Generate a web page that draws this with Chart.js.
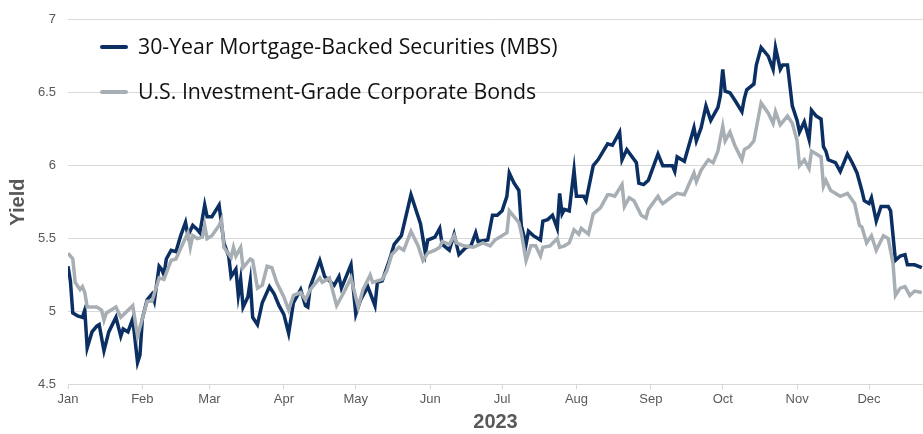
<!DOCTYPE html>
<html>
<head>
<meta charset="utf-8">
<script src="https://cdn.jsdelivr.net/npm/chart.js@4.4.1/dist/chart.umd.min.js"></script>
<style>
    body { margin: 0; background: #fff; }
    #wrap { position: relative; width: 923px; height: 434px; }
    .legend { position: absolute; left: 100px; font-family: 'Open Sans', sans-serif; font-size: 21.3px; color: #111; white-space: nowrap; line-height: 26px; }
    .legend span.sw { display: inline-block; width: 28px; height: 4px; border-radius: 2px; vertical-align: middle; margin-right: 10px; position: relative; top: -1px; }
</style>
</head>
<body>
<div id="wrap">
    <canvas id="chart" width="923" height="434"></canvas>
    <div class="legend" style="top:33px"><span class="sw" style="background:#0b2f63"></span>30-Year Mortgage-Backed Securities (MBS)</div>
    <div class="legend" style="top:78px"><span class="sw" style="background:#a7afb5"></span>U.S. Investment-Grade Corporate Bonds</div>
</div>
<script>
/* data: day of year 2023 (0 = Jan 1) and yield */
let mbsDays = [0, 1, 2, 4, 6, 7, 8, 10, 12, 13, 15, 17, 20, 22, 23, 25, 27, 29, 30, 31, 33, 35, 36, 38, 39, 40, 41, 43, 45, 47, 49, 50, 52, 54, 55, 57, 58, 60, 63, 65, 67, 68, 70, 71, 72, 73, 75, 76, 77, 79, 81, 84, 86, 88, 90, 92, 94, 97, 99, 100, 101, 105, 107, 111, 113, 114, 118, 120, 122, 125, 128, 129, 131, 134, 136, 139, 143, 147, 149, 150, 153, 155, 156, 159, 161, 163, 166, 168, 170, 171, 175, 177, 179, 181, 183, 184, 186, 188, 189, 191, 192, 194, 197, 198, 200, 202, 204, 205, 206, 207, 209, 211, 212, 215, 216, 219, 221, 225, 227, 230, 231, 233, 237, 238, 240, 242, 246, 248, 252, 253, 254, 257, 261, 262, 264, 266, 268, 271, 272, 273, 274, 276, 278, 281, 282, 283, 286, 287, 289, 292, 294, 295, 297, 298, 300, 302, 304, 305, 307, 309, 310, 312, 314, 315, 316, 317, 320, 322, 325, 327, 329, 331, 332, 334, 335, 337, 339, 342, 343, 345, 347, 349, 350, 353, 356];
let mbsYield = [5.31, 5.21, 4.99, 4.97, 4.96, 5.01, 4.75, 4.86, 4.90, 4.91, 4.73, 4.86, 4.96, 4.83, 4.88, 4.86, 4.95, 4.65, 4.70, 4.95, 5.08, 5.12, 5.07, 5.31, 5.29, 5.25, 5.36, 5.42, 5.41, 5.52, 5.61, 5.52, 5.59, 5.56, 5.54, 5.73, 5.65, 5.65, 5.73, 5.47, 5.38, 5.24, 5.29, 5.11, 5.22, 5.03, 5.10, 5.21, 4.96, 4.91, 5.06, 5.17, 5.12, 5.04, 4.98, 4.85, 5.06, 5.15, 5.04, 5.03, 5.17, 5.35, 5.24, 5.18, 5.24, 5.16, 5.32, 4.98, 5.08, 5.17, 5.04, 5.20, 5.21, 5.35, 5.46, 5.52, 5.80, 5.60, 5.40, 5.49, 5.51, 5.57, 5.46, 5.42, 5.53, 5.39, 5.44, 5.45, 5.54, 5.48, 5.49, 5.66, 5.66, 5.69, 5.79, 5.95, 5.88, 5.83, 5.59, 5.46, 5.55, 5.52, 5.49, 5.62, 5.63, 5.66, 5.57, 5.81, 5.67, 5.70, 5.69, 5.97, 5.79, 5.79, 5.76, 6.00, 6.04, 6.15, 6.14, 6.23, 6.04, 6.11, 6.02, 5.88, 5.87, 5.90, 6.08, 6.00, 6.00, 5.96, 6.06, 6.03, 6.26, 6.17, 6.26, 6.41, 6.31, 6.40, 6.48, 6.66, 6.51, 6.50, 6.45, 6.37, 6.46, 6.52, 6.56, 6.69, 6.81, 6.75, 6.66, 6.81, 6.66, 6.69, 6.69, 6.41, 6.31, 6.23, 6.30, 6.18, 6.38, 6.34, 6.32, 6.13, 6.10, 6.04, 6.02, 5.96, 6.08, 6.02, 5.95, 5.83, 5.76, 5.74, 5.78, 5.62, 5.72, 5.72, 5.69, 5.35, 5.38, 5.39, 5.32, 5.32, 5.30];

let corpDays = [0, 2, 3, 5, 6, 7, 8, 12, 14, 15, 16, 20, 22, 27, 29, 31, 33, 35, 38, 40, 43, 45, 48, 50, 51, 52, 54, 56, 57, 58, 60, 63, 64, 65, 68, 69, 70, 72, 73, 76, 77, 79, 81, 83, 85, 87, 90, 92, 94, 97, 99, 101, 105, 106, 109, 112, 115, 118, 121, 123, 126, 127, 131, 133, 135, 138, 140, 143, 146, 148, 150, 153, 155, 156, 159, 161, 162, 165, 169, 173, 176, 178, 183, 184, 188, 189, 191, 193, 195, 197, 198, 201, 204, 205, 207, 209, 211, 213, 214, 217, 219, 222, 225, 226, 228, 231, 232, 234, 236, 239, 241, 242, 246, 247, 248, 252, 254, 257, 261, 262, 264, 267, 269, 271, 273, 274, 276, 278, 281, 282, 284, 286, 289, 292, 294, 295, 297, 298, 300, 302, 304, 305, 307, 309, 310, 314, 315, 316, 318, 322, 325, 328, 330, 331, 333, 335, 337, 340, 342, 344, 345, 347, 349, 351, 353, 356];
let corpYield = [5.40, 5.36, 5.20, 5.15, 5.17, 5.13, 5.03, 5.03, 5.01, 4.94, 4.99, 5.03, 4.96, 5.04, 4.83, 4.95, 5.07, 5.07, 5.23, 5.22, 5.35, 5.36, 5.47, 5.54, 5.44, 5.52, 5.50, 5.51, 5.59, 5.50, 5.52, 5.59, 5.63, 5.44, 5.37, 5.44, 5.38, 5.44, 5.30, 5.36, 5.35, 5.16, 5.18, 5.31, 5.30, 5.20, 5.10, 5.01, 5.11, 5.13, 5.08, 5.15, 5.23, 5.20, 5.23, 5.04, 5.13, 5.23, 5.03, 5.15, 5.25, 5.20, 5.22, 5.28, 5.39, 5.44, 5.42, 5.55, 5.45, 5.35, 5.40, 5.42, 5.44, 5.48, 5.46, 5.52, 5.47, 5.45, 5.44, 5.47, 5.45, 5.49, 5.54, 5.69, 5.61, 5.54, 5.35, 5.45, 5.45, 5.38, 5.44, 5.45, 5.50, 5.44, 5.45, 5.47, 5.56, 5.53, 5.57, 5.53, 5.67, 5.71, 5.80, 5.80, 5.79, 5.87, 5.72, 5.78, 5.76, 5.66, 5.64, 5.70, 5.79, 5.76, 5.74, 5.79, 5.81, 5.80, 5.95, 5.89, 5.97, 6.04, 6.02, 6.10, 6.27, 6.17, 6.23, 6.14, 6.04, 6.11, 6.13, 6.17, 6.43, 6.36, 6.29, 6.37, 6.28, 6.30, 6.34, 6.29, 6.17, 6.00, 6.04, 5.98, 6.10, 6.06, 5.86, 5.90, 5.83, 5.79, 5.81, 5.74, 5.59, 5.58, 5.47, 5.52, 5.42, 5.52, 5.50, 5.33, 5.11, 5.16, 5.17, 5.11, 5.14, 5.13];

let monthStarts = [0, 31, 59, 90, 120, 151, 181, 212, 243, 273, 304, 334];
let monthLabels = ['Jan', 'Feb', 'Mar', 'Apr', 'May', 'Jun', 'Jul', 'Aug', 'Sep', 'Oct', 'Nov', 'Dec'];
let yieldTicks = [4.5, 5, 5.5, 6, 6.5, 7];

function toPoints(days, values) {
    return days.map((d, i) => ({ x: d, y: values[i] }));
}

let axisGray = '#595959';
let gridGray = '#d9d9d9';

window.onload = function() {
    new Chart(document.getElementById('chart'), {
        type: 'line',
        data: {
            datasets: [{
                label: 'U.S. Investment-Grade Corporate Bonds',
                data: toPoints(corpDays, corpYield),
                borderColor: '#a7afb5',
                borderWidth: 3.5,
                pointRadius: 0,
                tension: 0
            }, {
                label: '30-Year Mortgage-Backed Securities (MBS)',
                data: toPoints(mbsDays, mbsYield),
                borderColor: '#0b2f63',
                borderWidth: 3.5,
                pointRadius: 0,
                tension: 0
            }]
        },
        options: {
            responsive: false,
            animation: false,
            devicePixelRatio: 1,
            layout: { padding: { top: 3, left: 6, right: 0, bottom: 0 } },
            plugins: {
                legend: { display: false },
                tooltip: { enabled: false }
            },
            scales: {
                x: {
                    type: 'linear',
                    min: 0,
                    max: 356.5,
                    afterBuildTicks: (scale) => {
                        scale.ticks = monthStarts.map(v => ({ value: v }));
                    },
                    ticks: {
                        autoSkip: false,
                        maxRotation: 0,
                        padding: 2,
                        color: axisGray,
                        font: { family: 'Liberation Sans', size: 13 },
                        callback: (value) => monthLabels[monthStarts.indexOf(value)]
                    },
                    grid: { drawOnChartArea: false, drawTicks: true, tickLength: 5, color: gridGray },
                    border: { display: true, color: gridGray },
                    title: {
                        display: true,
                        text: '2023',
                        color: axisGray,
                        font: { family: 'Liberation Sans', size: 20, weight: 'bold' },
                        padding: { top: 1, bottom: 0 }
                    }
                },
                y: {
                    min: 4.5,
                    max: 7,
                    afterBuildTicks: (scale) => {
                        scale.ticks = yieldTicks.map(v => ({ value: v }));
                    },
                    afterFit: (scale) => { scale.width = 62; },
                    ticks: {
                        padding: 12,
                        color: axisGray,
                        font: { family: 'Liberation Sans', size: 13 },
                        callback: (value) => String(value)
                    },
                    grid: { drawTicks: false, color: gridGray },
                    border: { display: false },
                    title: {
                        display: true,
                        text: 'Yield',
                        color: axisGray,
                        font: { family: 'Liberation Sans', size: 20, weight: 'bold' },
                        padding: { top: 0, bottom: 0 }
                    }
                }
            }
        }
    });
}
</script>
</body>
</html>
